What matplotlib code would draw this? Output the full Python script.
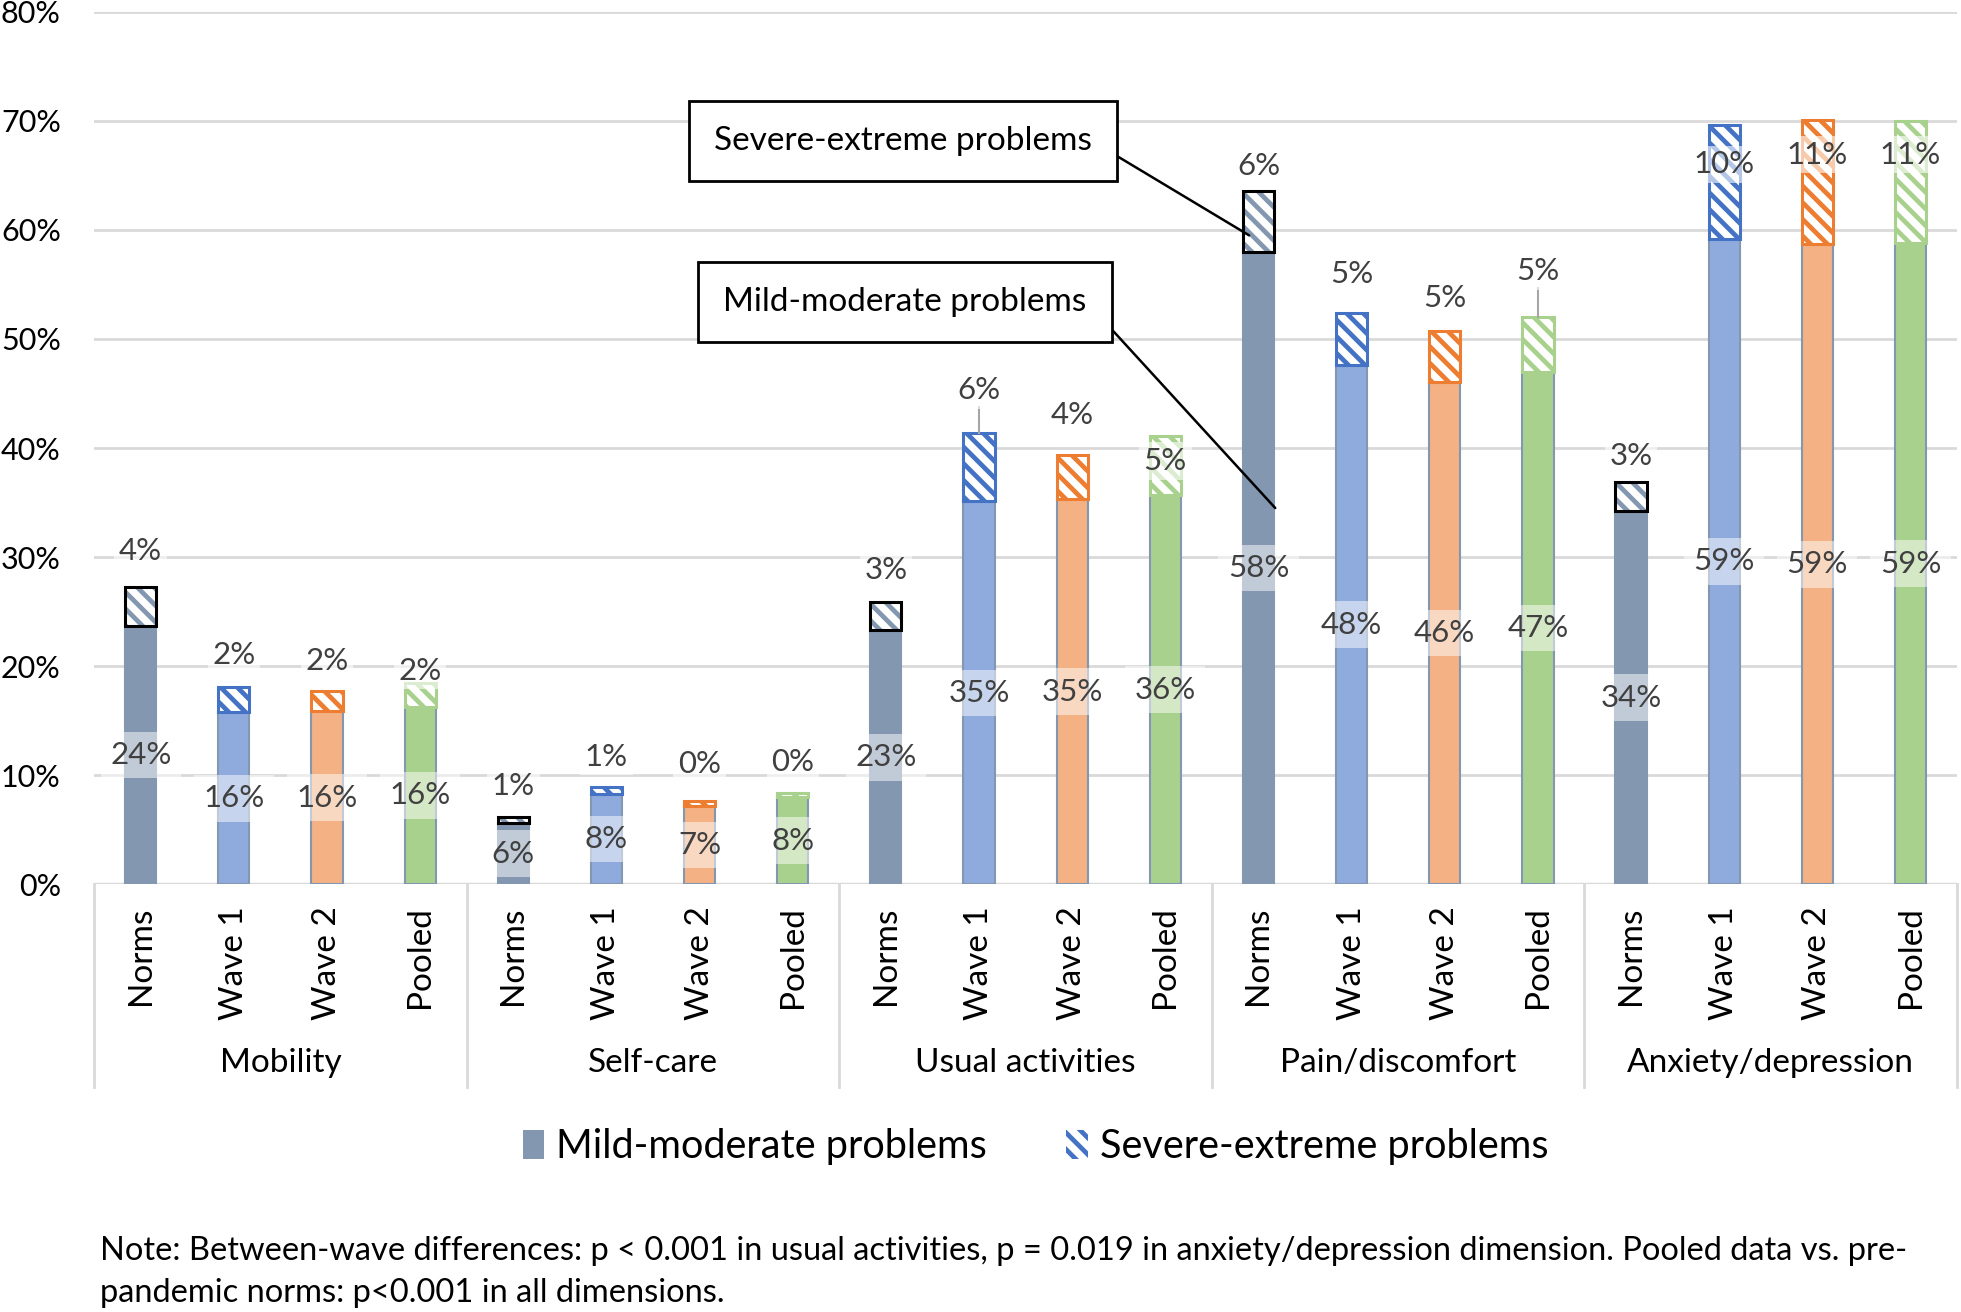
import matplotlib.pyplot as plt
import numpy as np
from matplotlib.patches import Patch
from matplotlib.transforms import blended_transform_factory

plt.rcParams["font.family"] = ["Lato", "DejaVu Sans"]
plt.rcParams["hatch.linewidth"] = 3.4

# --- data (percent of respondents) ---
dimensions = ["Mobility", "Self-care", "Usual activities", "Pain/discomfort", "Anxiety/depression"]
series = ["Norms", "Wave 1", "Wave 2", "Pooled"]

mild_norms = [23.7, 5.6, 23.3, 58.0, 34.2]
mild_wave1 = [15.8, 8.3, 35.1, 47.6, 59.2]
mild_wave2 = [15.9, 7.2, 35.3, 46.1, 58.7]
mild_pooled = [16.3, 8.0, 35.7, 47.0, 58.8]

severe_norms = [3.6, 0.6, 2.6, 5.6, 2.7]
severe_wave1 = [2.3, 0.6, 6.3, 4.8, 10.4]
severe_wave2 = [1.8, 0.4, 4.1, 4.6, 11.4]
severe_pooled = [2.2, 0.4, 5.4, 5.0, 11.2]

note_lines = [
    "Note: Between-wave differences: p < 0.001 in usual activities, p = 0.019 in anxiety/depression dimension. Pooled data vs. pre-",
    "pandemic norms: p<0.001 in all dimensions.",
]

# --- styling ---
fill_colors = ["#8497B0", "#8FAADC", "#F4B183", "#A9D18E"]
hatch_colors = ["#8497B0", "#4472C4", "#ED7D31", "#A9D18E"]
frame_colors = ["black", "#4472C4", "#ED7D31", "#A9D18E"]
# manual offsets of the severe labels above the stack top (percentage points)
sev_dy = [
    [3.3, 2.8, 2.9, 2.3, 2.4],
    [2.9, 2.8, 3.9, 3.6, -3.6],
    [2.8, 3.4, 3.6, 3.1, -3.2],
    [1.1, 2.8, -2.3, 4.2, -3.1],
]
leaders = [(1, 2), (3, 3)]  # (series, dimension) with a leader line
label_color = "#404040"
fs = 22.5
fs_cat = 24
bar_w = 0.335

mild = [mild_norms, mild_wave1, mild_wave2, mild_pooled]
severe = [severe_norms, severe_wave1, severe_wave2, severe_pooled]
n_s = len(series)

fig = plt.figure(figsize=(19.61, 13.12), dpi=100)
ax = fig.add_axes([0.048, 0.326, 0.950, 0.665])

for s in range(n_s):
    xs = np.arange(len(dimensions)) * n_s + s
    m = np.array(mild[s])
    v = np.array(severe[s])
    ax.bar(xs, m, width=bar_w, color=fill_colors[s], edgecolor="#8497B0", linewidth=1.5, zorder=2)
    ax.bar(xs, v, bottom=m, width=bar_w, color="white", edgecolor=hatch_colors[s],
           hatch="\\\\", linewidth=0, zorder=2)
    ax.bar(xs, v, bottom=m, width=bar_w, fill=False, edgecolor=frame_colors[s], linewidth=2.2, zorder=3)

    for d, x in enumerate(xs):
        ax.text(x, m[d] / 2, f"{m[d]:.0f}%", ha="center", va="center", fontsize=fs, color=label_color,
                zorder=4, bbox=dict(boxstyle="square,pad=0.3", fc="white", ec="none", alpha=0.5))
        top = m[d] + v[d]
        ax.text(x, top + sev_dy[s][d], f"{v[d]:.0f}%", ha="center", va="center", fontsize=fs,
                color=label_color, zorder=4,
                bbox=dict(boxstyle="square,pad=0.15", fc="white", ec="none", alpha=0.6))
        if (s, d) in leaders:
            ax.plot([x, x], [top, top + sev_dy[s][d] - 1.5], color="#A6A6A6", lw=1.5, zorder=3)

n_bars = len(dimensions) * n_s
ax.set_xlim(-0.5, n_bars - 0.5)
ax.set_ylim(0, 80)
ax.set_yticks(np.arange(0, 81, 10))
ax.set_yticklabels([f"{t}%" for t in range(0, 81, 10)], fontsize=22, color="black")
ax.set_xticks(np.arange(n_bars))
ax.set_xticklabels(series * len(dimensions), rotation=90, fontsize=fs_cat, color="black")
ax.tick_params(axis="both", length=0)
ax.tick_params(axis="x", pad=16)
ax.tick_params(axis="y", pad=24)
for sp in ax.spines.values():
    sp.set_visible(False)
ax.yaxis.grid(True, color="#D9D9D9", linewidth=2)
ax.set_axisbelow(True)
ax.axhline(0, color="#D9D9D9", linewidth=2.5, zorder=1)

# group separators and names below the axis
trans = blended_transform_factory(ax.transData, ax.transAxes)
for g in range(len(dimensions) + 1):
    xb = g * n_s - 0.5
    ax.plot([xb, xb], [0, -0.232], transform=trans, color="#D9D9D9", lw=2, clip_on=False)
for g, name in enumerate(dimensions):
    ax.text(g * n_s + (n_s - 1) / 2, -0.205, name, transform=trans, ha="center", va="center",
            fontsize=fs_cat, color="black")

# callout boxes
box = dict(boxstyle="square,pad=0.75", fc="white", ec="black", lw=2)
ax.annotate("Severe-extreme problems", xy=(11.9, 59.5), xytext=(903, 1312 - 141),
            textcoords="figure pixels", ha="center", va="center", fontsize=24, bbox=box,
            arrowprops=dict(arrowstyle="-", color="black", lw=1.8, relpos=(1, 0.5), shrinkA=0, shrinkB=0),
            zorder=5)
ax.annotate("Mild-moderate problems", xy=(12.18, 34.5), xytext=(905, 1312 - 302),
            textcoords="figure pixels", ha="center", va="center", fontsize=24, bbox=box,
            arrowprops=dict(arrowstyle="-", color="black", lw=1.8, relpos=(1, 0.5), shrinkA=0, shrinkB=0),
            zorder=5)

handles = [
    Patch(facecolor="#8497B0", edgecolor="none"),
    Patch(facecolor="white", edgecolor="#4472C4", hatch="\\\\", linewidth=0),
]
fig.legend(handles, ["Mild-moderate problems", "Severe-extreme problems"], loc="center",
           bbox_to_anchor=(0.528, 0.126), ncol=2, frameon=False, fontsize=28.5,
           handlelength=0.55, handleheight=0.75, handletextpad=0.3, columnspacing=2.0)

fig.text(0.051, 0.0465, note_lines[0], fontsize=23.5, va="center", ha="left", color="black")
fig.text(0.051, 0.0145, note_lines[1], fontsize=23.5, va="center", ha="left", color="black")

fig.savefig("out.png", dpi=100)
